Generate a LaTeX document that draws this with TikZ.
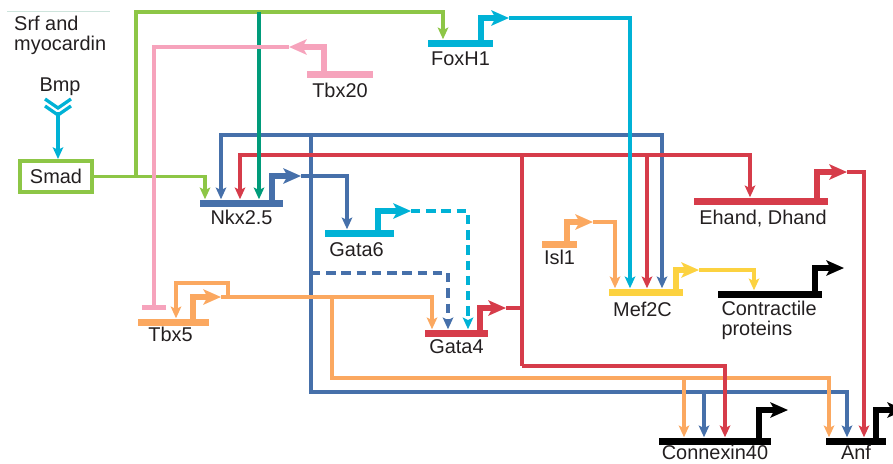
\documentclass[tikz,border=0pt]{standalone}
\usepackage{fontspec}
\setmainfont{Liberation Sans}
\usetikzlibrary{positioning,arrows.meta,calc}
\definecolor{grnC}{RGB}{141,198,70}
\definecolor{tealC}{RGB}{0,155,122}
\definecolor{blueC}{RGB}{70,112,170}
\definecolor{redC}{RGB}{214,60,74}
\definecolor{cyanC}{RGB}{0,178,214}
\definecolor{pinkC}{RGB}{246,163,188}
\definecolor{orgC}{RGB}{251,168,96}
\definecolor{yelC}{RGB}{252,210,64}
\definecolor{inkC}{RGB}{35,31,32}
\definecolor{faintC}{RGB}{205,228,220}
\newcommand{\pxu}{0.03cm}
\tikzset{
  genebar/.style={fill=#1, inner sep=0pt, minimum height=7*\pxu},
  genelabel/.style={font=\fontsize{17}{17}\selectfont, text=inkC, inner sep=0pt},
  link/.style={draw=#1, line width=3pt, -{Stealth[length=10pt,width=9pt,inset=2.2pt]}},
  wire/.style={draw=#1, line width=3pt},
  promoter/.style={draw=#1, line width=4.6pt, -{Stealth[length=15pt,width=13pt,inset=3.5pt]}},
  dashlink/.style={link=#1, dash pattern=on 8pt off 5pt},
}

\begin{document}
\begin{tikzpicture}[x=0.03cm,y=-0.03cm]
  \useasboundingbox (0,0) rectangle (893,463);

  \node[genelabel, align=left, anchor=north west] (srf) at (14,16) {Srf and\\myocardin};
  \draw[faintC, line width=0.8pt] (7,11) -- (110,11);
  \node[genelabel] (bmp) at (60,87) {Bmp};
  \node[genelabel, draw=grnC, line width=3.4pt, minimum width=72*\pxu, minimum height=31*\pxu] (smad) at (56,176.5) {Smad};

  \node[genebar=blueC, minimum width=83*\pxu] (nkx) at (241.5,203) {};
  \node[genebar=cyanC, minimum width=65*\pxu] (foxh1) at (460.5,43) {};
  \node[genebar=pinkC, minimum width=66*\pxu] (tbx20) at (340,74) {};
  \node[genebar=cyanC, minimum width=69*\pxu] (gata6) at (359.5,233) {};
  \node[genebar=orgC, minimum width=71*\pxu] (tbx5) at (173.5,322) {};
  \node[genebar=redC, minimum width=63*\pxu] (gata4) at (456.5,333) {};
  \node[genebar=orgC, minimum width=35*\pxu] (isl1) at (559.5,244) {};
  \node[genebar=yelC, minimum width=74*\pxu] (mef2c) at (646,292) {};
  \node[genebar=redC, minimum width=134*\pxu] (ehand) at (761,201) {};
  \node[genebar=black, minimum width=104*\pxu] (contr) at (770,294) {};
  \node[genebar=black, minimum width=112*\pxu] (cx40) at (715,441) {};
  \node[genebar=black, minimum width=60*\pxu] (anf) at (856,441) {};

  \node[genelabel, below=3pt of nkx] (nkxlab) {Nkx2.5};
  \node[genelabel, below=4pt of foxh1] (foxh1lab) {FoxH1};
  \node[genelabel, below=4pt of tbx20] (tbx20lab) {Tbx20};
  \node[genelabel, below=4.5pt of gata6, xshift=-2.5pt] (gata6lab) {Gata6};
  \node[genelabel, below=1.3pt of tbx5, xshift=-2.5pt] (tbx5lab) {Tbx5};
  \node[genelabel, below=2pt of gata4] (gata4lab) {Gata4};
  \node[genelabel, below=2pt of isl1] (isl1lab) {Isl1};
  \node[genelabel, below=5.5pt of mef2c, xshift=-3pt] (mef2clab) {Mef2C};
  \node[genelabel, below=4.5pt of ehand, xshift=1.7pt] (ehandlab) {Ehand, Dhand};
  \node[genelabel, align=left, anchor=north west] (contrlab) at ([xshift=3pt,yshift=-3pt]contr.south west) {Contractile\\proteins};
  \node[genelabel, below=0.5pt of cx40] (cx40lab) {Connexin40};
  \node[genelabel, below=0.5pt of anf] (anflab) {Anf};

  \draw[cyanC, line width=2.8pt] (45,99) -- (58,108) -- (71,99) (45,106) -- (58,115) -- (71,106);
  \draw[link=cyanC] (58,112) -- (58,0 |- smad.north);

  \draw[promoter=blueC] (nkx.center) ++(30.5,0) |- (301,176);
  \draw[link=blueC] (301,176) -| (347,0 |- gata6.north);
  \draw[link=blueC] (311,135) -| (221,0 |- nkx.north);
  \draw[link=blueC] (311,135) -| (662,0 |- mef2c.north);
  \draw[link=blueC] (311,135) -- (311,392) -| (847,0 |- anf.north);
  \draw[link=blueC] (704,392) -- (704,0 |- cx40.north);
  \draw[dashlink=blueC] (311,273) -| (448,0 |- gata4.north);

  \draw[promoter=orgC] (tbx5.center) ++(19.5,0) |- (221,297);
  \draw[link=orgC] (221,297) -| (432,0 |- gata4.north);
  \draw[link=orgC] (228,297) |- (176,283) -- (176,0 |- tbx5.north);
  \draw[link=orgC] (332,297) -- (332,378) -| (829,0 |- anf.north);
  \draw[link=orgC] (684,378) -- (684,0 |- cx40.north);
  \draw[promoter=orgC] (isl1.center) ++(7.5,0) |- (593,222);
  \draw[link=orgC] (593,222) -| (615,0 |- mef2c.north);

  \draw[promoter=redC] (gata4.center) ++(23.5,0) |- (506,308);
  \draw[wire=redC] (506,308) -- (522,308);
  \draw[wire=redC] (522,155) -- (522,366);
  \draw[link=redC] (522,155) -| (240,0 |- nkx.north);
  \draw[link=redC] (522,155) -| (750,0 |- ehand.north);
  \draw[link=redC] (647,155) -- (647,0 |- mef2c.north);
  \draw[link=redC] (522,366) -| (725,0 |- cx40.north);
  \draw[promoter=redC] (ehand.center) ++(56,0) |- (847,172);
  \draw[link=redC] (847,172) -| (864,0 |- anf.north);

  \draw[promoter=cyanC] (gata6.center) ++(18.5,0) |- (411,211);
  \draw[dashlink=cyanC] (411,211) -| (468,0 |- gata4.north);
  \draw[promoter=cyanC] (foxh1.center) ++(20.5,0) |- (509,18);
  \draw[link=cyanC] (509,18) -| (630,0 |- mef2c.north);

  \draw[link=grnC] (smad.east) -| (205,0 |- nkx.north);
  \draw[link=grnC] (136,0 |- smad.east) |- (443,12) -- (443,0 |- foxh1.north);
  \draw[link=tealC] (259,12) -- (259,0 |- nkx.north);

  \draw[promoter=pinkC] (tbx20.center) ++(-16,0) |- (289,47);
  \draw[link=pinkC, -{Bar[width=21pt,line width=4.4pt]}] (289,47) -| (154,310);

  \draw[promoter=yelC] (mef2c.center) ++(30,0) |- (699,270);
  \draw[link=yelC] (699,270) -| (754,0 |- contr.north);
  \draw[promoter=black] (contr.center) ++(45,0) |- (844,268);
  \draw[promoter=black] (cx40.center) ++(44,0) |- (788,410);
  \draw[promoter=black] (anf.center) ++(20,0) |- (905,410);
\end{tikzpicture}
\end{document}
